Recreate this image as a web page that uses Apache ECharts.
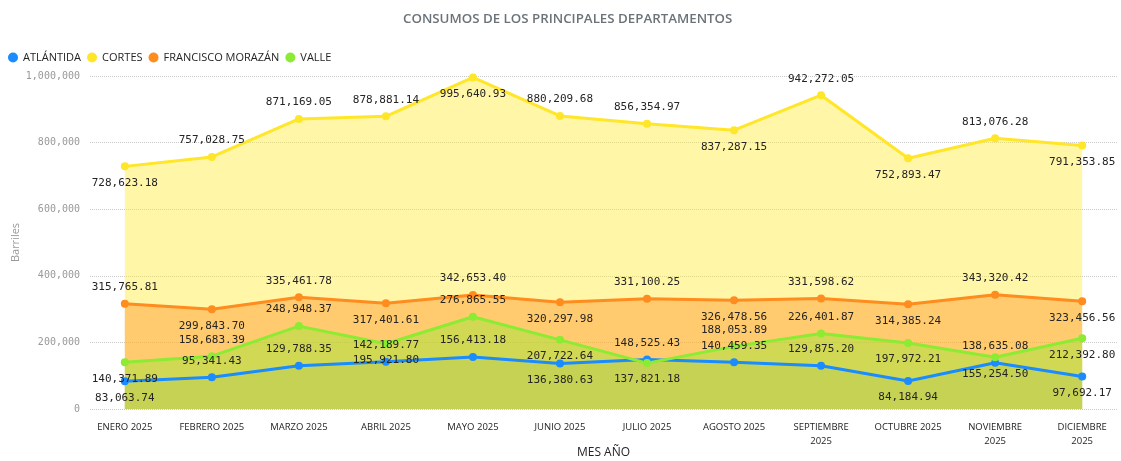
<!DOCTYPE html>
<html>
<head>
<meta charset="utf-8">
<script src="https://cdn.jsdelivr.net/npm/echarts@6/dist/echarts.min.js"></script>
<style>
  html, body { margin: 0; padding: 0; background: #fff; }
  #chart { width: 1121px; height: 461px; }
</style>
</head>
<body>
<div id="chart"></div>
<script>
// datos por mes
const categories = ['ENERO 2025', 'FEBRERO 2025', 'MARZO 2025', 'ABRIL 2025', 'MAYO 2025', 'JUNIO 2025',
  'JULIO 2025', 'AGOSTO 2025', 'SEPTIEMBRE 2025', 'OCTUBRE 2025', 'NOVIEMBRE 2025', 'DICIEMBRE 2025']
const atlantida = [83063.74, 95341.43, 129788.35, 142189.77, 156413.18, 136380.63, 148525.43, 140459.35, 129875.20, 84184.94, 138635.08, 97692.17]
const cortes = [728623.18, 757028.75, 871169.05, 878881.14, 995640.93, 880209.68, 856354.97, 837287.15, 942272.05, 752893.47, 813076.28, 791353.85]
const morazan = [315765.81, 299843.70, 335461.78, 317401.61, 342653.40, 320297.98, 331100.25, 326478.56, 331598.62, 314385.24, 343320.42, 323456.56]
const valle = [140371.89, 158683.39, 248948.37, 195921.80, 276865.55, 207722.64, 137821.18, 188053.89, 226401.87, 197972.21, 155254.50, 212392.80]
const yTicks = [0, 200000, 400000, 600000, 800000, 1000000]

// donde va cada etiqueta (arriba / abajo)
const T = 'top', B = 'bottom'
const posAtl = [B, T, T, T, T, B, T, T, T, B, T, B]
const posCor = [B, T, T, T, B, T, T, B, T, B, T, B]
const posMor = [T, B, T, B, T, B, T, B, T, B, T, B]
const posVal = [B, T, T, B, T, B, B, T, T, B, B, B]

function fmt(v) {
  let s = v.toFixed(2)
  let p = s.split('.')
  p[0] = p[0].replace(/\B(?=(\d{3})+(?!\d))/g, ',')
  return p.join('.')
}
function fmtInt(v) {
  return String(v).replace(/\B(?=(\d{3})+(?!\d))/g, ',')
}

const monoFont = '"DejaVu Sans Mono", monospace'
const uiFont = '"Open Sans", sans-serif'

const seriesDef = [
  { name: 'ATLÁNTIDA', data: atlantida, color: '#1A8CFF', fill: 'rgba(26,140,255,0.25)', pos: posAtl },
  { name: 'CORTES', data: cortes, color: '#FFE629', fill: 'rgba(255,235,59,0.45)', pos: posCor },
  { name: 'FRANCISCO MORAZÁN', data: morazan, color: '#FF8C1F', fill: 'rgba(255,140,26,0.4)', pos: posMor },
  { name: 'VALLE', data: valle, color: '#8CEB33', fill: 'rgba(139,234,43,0.4)', pos: posVal }
]

let seriesTemp = []
// areas primero, lineas encima
for (let s of seriesDef) {
  seriesTemp.push({
    name: s.name,
    type: 'line',
    z: 1,
    silent: true,
    showSymbol: false,
    lineStyle: { width: 0, opacity: 0 },
    itemStyle: { color: s.color },
    areaStyle: { color: s.fill, opacity: 1 },
    data: s.data.map((v, i) => [i, v])
  })
}
for (let s of seriesDef) {
  seriesTemp.push({
    name: s.name,
    type: 'line',
    z: 3,
    symbol: 'circle',
    symbolSize: 8,
    lineStyle: { width: 3, color: s.color },
    itemStyle: { color: s.color },
    label: { show: false },
    data: s.data.map((v, i) => ({
      value: [i, v],
      label: {
        show: true,
        position: s.pos[i],
        distance: 7,
        formatter: () => fmt(v),
        fontFamily: monoFont,
        fontSize: 11,
        color: '#252423'
      }
    }))
  })
}

const chart = echarts.init(document.getElementById('chart'))
const option = {
  animation: false,
  title: {
    text: 'CONSUMOS DE LOS PRINCIPALES DEPARTAMENTOS',
    left: 398,
    top: 8,
    textStyle: { fontFamily: uiFont, fontSize: 13.3, fontWeight: 600, color: '#6B7378' }
  },
  legend: {
    left: 3,
    top: 47,
    itemGap: 6,
    itemWidth: 10,
    itemHeight: 10,
    icon: 'circle',
    data: seriesDef.map(s => s.name),
    textStyle: { fontFamily: uiFont, fontSize: 11, color: '#252423' }
  },
  grid: { left: 90, right: 4, top: 76, bottom: 52, containLabel: false, outerBoundsMode: 'none' },
  xAxis: {
    type: 'value',
    min: -0.4,
    max: 11.4,
    name: 'MES AÑO',
    nameLocation: 'middle',
    nameGap: 38,
    nameMoveOverlap: false,
    nameTextStyle: { fontFamily: uiFont, fontSize: 12, color: '#252423' },
    axisLine: { show: false },
    axisTick: { show: false },
    splitLine: { show: false },
    axisLabel: {
      customValues: categories.map((c, i) => i),
      margin: 11,
      fontFamily: uiFont,
      fontSize: 9.5,
      lineHeight: 14,
      color: '#252423',
      formatter: v => {
        let c = categories[Math.round(v)] || ''
        return c.length >= 14 ? c.replace(' ', '\n') : c
      }
    }
  },
  yAxis: {
    type: 'value',
    min: yTicks[0],
    max: yTicks[yTicks.length - 1],
    interval: yTicks[1] - yTicks[0],
    name: 'Barriles',
    nameLocation: 'middle',
    nameGap: 69,
    nameMoveOverlap: false,
    nameTextStyle: { fontFamily: uiFont, fontSize: 11, color: '#999' },
    axisLine: { show: false },
    axisTick: { show: false },
    axisLabel: { fontFamily: monoFont, fontSize: 10, color: '#999', margin: 10, formatter: v => fmtInt(v) },
    splitLine: { show: true, lineStyle: { type: 'dotted', color: '#C8C8C8', width: 1 } }
  },
  series: seriesTemp
}
chart.setOption(option)
</script>
</body>
</html>
